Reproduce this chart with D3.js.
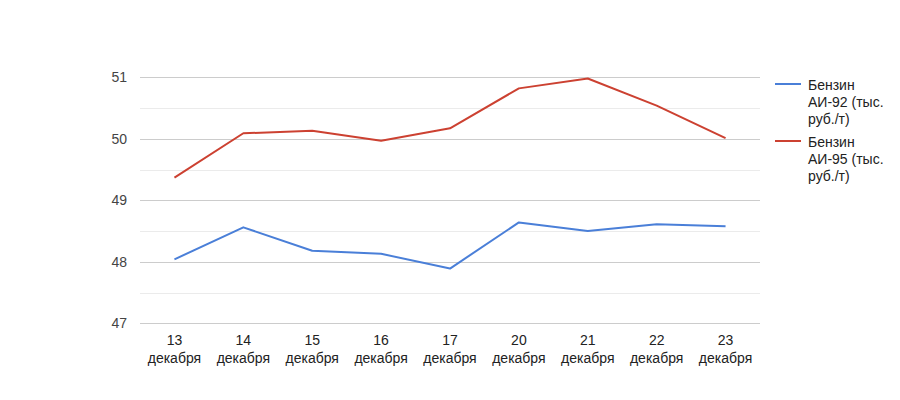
<!DOCTYPE html>
<html><head><meta charset="utf-8">
<script src="https://cdn.jsdelivr.net/npm/d3@7"></script>
<style>body{margin:0;background:#fff}svg{display:block;font-family:"Liberation Sans",Arial,sans-serif}</style>
</head><body><svg id="c" width="900" height="400"></svg>
<script>
const days = ["13","14","15","16","17","20","21","22","23"];
const monthLabel = "декабря";
const ai92 = [48.04,48.56,48.18,48.13,47.89,48.64,48.50,48.61,48.58];
const ai95 = [49.37,50.09,50.13,49.97,50.17,50.82,50.98,50.54,50.01];
const yTicks = [47,48,49,50,51];
const minorTicks = [47.5,48.5,49.5,50.5];
const seriesNames = [["Бензин","АИ-92 (тыс.","руб./т)"],["Бензин","АИ-95 (тыс.","руб./т)"]];
const colors = ["#4a7fd8","#cc4131"];

const svg = d3.select("#c");
const L=140,R=760,T=77.3,B=323.3;
const x = d3.scaleBand().domain(days).range([L,R]);
const y = d3.scaleLinear().domain([47,51]).range([B,T]);
const g = svg.append("g");
g.selectAll(".mn").data(minorTicks).join("line")
 .attr("x1",L).attr("x2",R).attr("y1",d=>Math.round(y(d))+0.5).attr("y2",d=>Math.round(y(d))+0.5)
 .attr("stroke","#ebebeb");
g.selectAll(".mj").data(yTicks).join("line")
 .attr("x1",L).attr("x2",R).attr("y1",d=>Math.round(y(d))+0.5).attr("y2",d=>Math.round(y(d))+0.5)
 .attr("stroke","#cccccc");
g.selectAll(".yl").data(yTicks).join("text")
 .attr("x",127).attr("y",d=>y(d)+5).attr("text-anchor","end")
 .attr("font-size",14).attr("fill","#444").text(d=>d);
const xl = g.selectAll(".xl").data(days).join("text")
 .attr("text-anchor","middle").attr("font-size",14).attr("fill","#222");
xl.append("tspan").attr("x",d=>x(d)+x.bandwidth()/2).attr("y",345).text(d=>d);
xl.append("tspan").attr("x",d=>x(d)+x.bandwidth()/2).attr("y",363).text(monthLabel);
const line = d3.line().x((d,i)=>x(days[i])+x.bandwidth()/2).y(d=>y(d));
[ai92,ai95].forEach((s,k)=>{
  g.append("path").attr("d",line(s)).attr("fill","none").attr("stroke",colors[k]).attr("stroke-width",2).attr("stroke-linejoin","round");
});
seriesNames.forEach((lines,k)=>{
  const y0 = 84 + k*57;
  g.append("line").attr("x1",775).attr("x2",801).attr("y1",y0).attr("y2",y0).attr("stroke",colors[k]).attr("stroke-width",2);
  const t = g.append("text").attr("font-size",14).attr("fill","#222");
  lines.forEach((s,j)=>t.append("tspan").attr("x",808).attr("y",y0+6+j*16.8).text(s));
});
</script></body></html>
